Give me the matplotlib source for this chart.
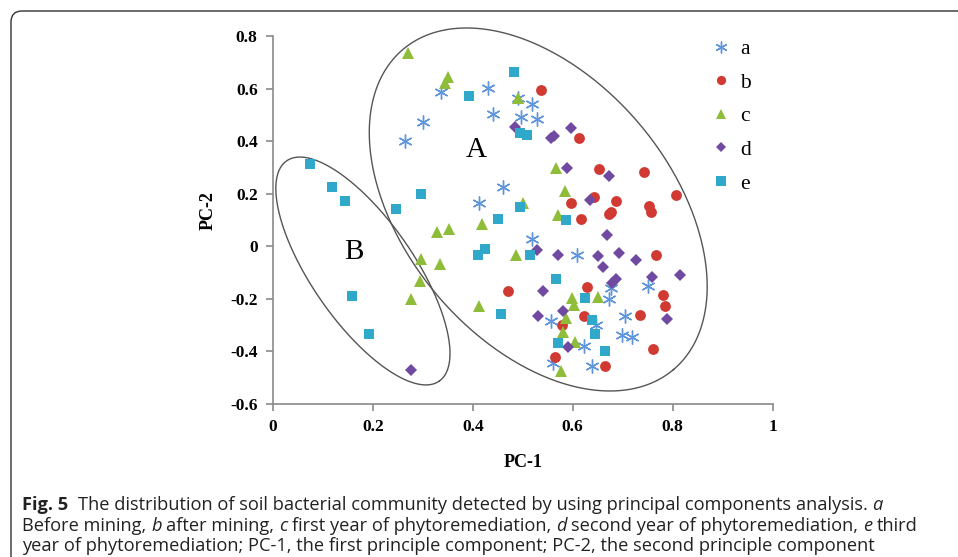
import numpy as np
import matplotlib
matplotlib.use('Agg')
import matplotlib.pyplot as plt
from matplotlib.lines import Line2D
from matplotlib.patches import PathPatch
from matplotlib.path import Path

# PCA scores: PC-1 / PC-2 for each group
pc1_a = [0.336, 0.430, 0.491, 0.518, 0.441, 0.497, 0.529, 0.301, 0.264, 0.460, 0.412, 0.518,
         0.608, 0.676, 0.672, 0.751, 0.704, 0.699, 0.719, 0.557, 0.647, 0.622, 0.560, 0.638]
pc2_a = [0.586, 0.603, 0.563, 0.540, 0.502, 0.490, 0.486, 0.474, 0.402, 0.227, 0.164, 0.027,
         -0.033, -0.159, -0.200, -0.151, -0.267, -0.337, -0.347, -0.286, -0.299, -0.381, -0.445, -0.457]

pc1_b = [0.537, 0.612, 0.652, 0.742, 0.807, 0.642, 0.596, 0.687, 0.753, 0.757, 0.676, 0.672,
         0.617, 0.766, 0.781, 0.785, 0.734, 0.761, 0.629, 0.470, 0.622, 0.579, 0.565, 0.665]
pc2_b = [0.595, 0.413, 0.294, 0.284, 0.195, 0.189, 0.166, 0.174, 0.155, 0.132, 0.132, 0.122,
         0.105, -0.034, -0.184, -0.229, -0.261, -0.390, -0.156, -0.172, -0.267, -0.301, -0.422, -0.454]

pc1_c = [0.271, 0.351, 0.344, 0.491, 0.567, 0.584, 0.501, 0.570, 0.418, 0.328, 0.353, 0.487,
         0.296, 0.334, 0.295, 0.276, 0.412, 0.599, 0.602, 0.650, 0.586, 0.580, 0.605, 0.576]
pc2_c = [0.734, 0.643, 0.620, 0.563, 0.299, 0.212, 0.166, 0.119, 0.085, 0.056, 0.066, -0.033,
         -0.049, -0.068, -0.132, -0.200, -0.229, -0.195, -0.223, -0.194, -0.273, -0.325, -0.366, -0.474]

pc1_d = [0.485, 0.557, 0.562, 0.597, 0.589, 0.672, 0.634, 0.669, 0.529, 0.570, 0.650, 0.692,
         0.660, 0.727, 0.814, 0.759, 0.687, 0.678, 0.789, 0.540, 0.531, 0.580, 0.590, 0.276]
pc2_d = [0.453, 0.411, 0.421, 0.449, 0.299, 0.269, 0.176, 0.043, -0.014, -0.033, -0.036, -0.024,
         -0.079, -0.054, -0.111, -0.118, -0.125, -0.138, -0.277, -0.170, -0.265, -0.248, -0.384, -0.470]

pc1_e = [0.483, 0.393, 0.495, 0.508, 0.074, 0.119, 0.144, 0.297, 0.246, 0.451, 0.495, 0.587,
         0.410, 0.424, 0.515, 0.567, 0.624, 0.457, 0.639, 0.645, 0.570, 0.664, 0.159, 0.192]
pc2_e = [0.662, 0.573, 0.430, 0.424, 0.313, 0.225, 0.174, 0.200, 0.142, 0.104, 0.149, 0.100,
         -0.033, -0.011, -0.033, -0.125, -0.197, -0.258, -0.280, -0.333, -0.368, -0.400, -0.191, -0.333]

group_names = ['a', 'b', 'c', 'd', 'e']
xticks = [0, 0.2, 0.4, 0.6, 0.8, 1]
xtick_labels = ['0', '0.2', '0.4', '0.6', '0.8', '1']
yticks = [0.8, 0.6, 0.4, 0.2, 0, -0.2, -0.4, -0.6]
ytick_labels = ['0.8', '0.6', '0.4', '0.2', '0', '-0.2', '-0.4', '-0.6']

W, H = 958, 557
serif = 'Liberation Serif'

fig = plt.figure(figsize=(W / 100, H / 100), dpi=100)
ax = fig.add_axes([273 / W, 1 - 404 / H, 499.5 / W, 368 / H])

styles = [
    dict(marker=(6, 2, 0), color='#5f95dc', ms=10, mew=1.0),
    dict(marker='o', color='#d03a33', ms=7.8, mew=0),
    dict(marker='^', color='#8fbd3a', ms=8.8, mew=0),
    dict(marker='D', color='#7049a0', ms=6.0, mew=0),
    dict(marker='s', color='#2fa8ca', ms=7.8, mew=0),
]
xs = [pc1_a, pc1_b, pc1_c, pc1_d, pc1_e]
ys = [pc2_a, pc2_b, pc2_c, pc2_d, pc2_e]

handles = []
for x, y, st, name in zip(xs, ys, styles, group_names):
    ax.plot(x, y, linestyle='none', marker=st['marker'], color=st['color'],
            markersize=st['ms'], markeredgewidth=st['mew'], zorder=3)
    handles.append(Line2D([], [], linestyle='none', marker=st['marker'], color=st['color'],
                          markersize=st['ms'] * 0.85, markeredgewidth=st['mew'], label=name))

ax.set_xlim(0, 1)
ax.set_ylim(-0.6, 0.8)
ax.set_xticks(xticks)
ax.set_xticklabels(xtick_labels)
ax.set_yticks(yticks)
ax.set_yticklabels(ytick_labels)
for s in ['top', 'right']:
    ax.spines[s].set_visible(False)
for s in ['left', 'bottom']:
    ax.spines[s].set_color('#8a8a8a')
    ax.spines[s].set_linewidth(1.2)
ax.tick_params(direction='out', length=5, width=1.2, color='#8a8a8a', labelsize=12.5, pad=6)
for lab in ax.get_xticklabels() + ax.get_yticklabels():
    lab.set_family(serif)
    lab.set_fontweight('bold')

ax.set_xlabel('PC-1', family=serif, fontsize=13, fontweight='bold')
ax.set_ylabel('PC-2', family=serif, fontsize=13, fontweight='bold')
ax.xaxis.set_label_coords(0.5, -0.135)
ax.yaxis.set_label_coords(-0.112, 0.527)

# group ellipses (centre in data units, semi-axes in pixels, tilt in degrees)
sx = 499.5 / 1.0
sy = 368 / 1.4
t = np.linspace(0, 2 * np.pi, 400)
for cx, cy, a, b, th in [(0.531, 0.140, 209.6, 132.5, 49.8), (0.180, -0.094, 134, 51.1, 55.3)]:
    r = np.radians(th)
    dx = a * np.cos(t) * np.cos(r) - b * np.sin(t) * np.sin(r)
    dy = a * np.cos(t) * np.sin(r) + b * np.sin(t) * np.cos(r)
    ax.plot(cx + dx / sx, cy - dy / sy, color='#555555', lw=1.0, clip_on=False, zorder=2)

ax.text(0.407, 0.367, 'A', family=serif, fontsize=21, ha='center', va='center')
ax.text(0.162, -0.02, 'B', family=serif, fontsize=21, ha='center', va='center')

fig.legend(handles=handles, loc='upper left', bbox_to_anchor=(710 / W, 1 - 39 / H),
           frameon=False, prop={'family': serif, 'size': 15.5}, handlelength=1.0,
           handletextpad=0.4, labelspacing=0.63, borderaxespad=0, borderpad=0)

# rounded frame around the figure panel
fr = [(11, H + 5), (11, 22), (11, 11), (22, 11), (W + 5, 11)]
codes = [Path.MOVETO, Path.LINETO, Path.CURVE3, Path.CURVE3, Path.LINETO]
verts = [(px / W, 1 - py / H) for px, py in fr]
fig.patches.append(PathPatch(Path(verts, codes), transform=fig.transFigure, fill=False,
                             edgecolor='#333333', lw=1.0, clip_on=False))

# caption with mixed bold / italic runs
cap_font = ['Open Sans', 'DejaVu Sans']
lines = [
    [('Fig. 5', 'b'), ('  The distribution of soil bacterial community detected by using principal components analysis. ', 'n'), ('a', 'i')],
    [('Before mining, ', 'n'), ('b', 'i'), (' after mining, ', 'n'), ('c', 'i'), (' first year of phytoremediation, ', 'n'),
     ('d', 'i'), (' second year of phytoremediation, ', 'n'), ('e', 'i'), (' third', 'n')],
    [('year of phytoremediation; PC-1, the first principle component; PC-2, the second principle component', 'n')],
]
renderer = fig.canvas.get_renderer()


def width_px(s, size, style='n'):
    tt = fig.text(0, 0, s, fontsize=size, family=cap_font,
                  fontweight='bold' if style == 'b' else 'normal',
                  fontstyle='italic' if style == 'i' else 'normal')
    w = tt.get_window_extent(renderer).width
    tt.remove()
    return w


def line_width(runs, size):
    sp = width_px('a a', size) - width_px('aa', size)
    total = 0
    for s, style in runs:
        core = s.strip(' ')
        total += (len(s) - len(core)) * sp + width_px(core, size, style)
    return total


base = 12
size = base * 892 / max(line_width(r, base) for r in lines)
space_w = width_px('a a', size) - width_px('aa', size)

line_y = [505, 526, 546]
for runs, yy in zip(lines, line_y):
    xx = 22
    for s, style in runs:
        lead = len(s) - len(s.lstrip(' '))
        trail = len(s) - len(s.rstrip(' '))
        core = s.strip(' ')
        xx += lead * space_w
        fig.text(xx / W, 1 - yy / H, core, fontsize=size, family=cap_font, va='center',
                 fontweight='bold' if style == 'b' else 'normal',
                 fontstyle='italic' if style == 'i' else 'normal', color='#222222')
        xx += width_px(core, size, style) + trail * space_w

fig.savefig('out.png', dpi=100)
